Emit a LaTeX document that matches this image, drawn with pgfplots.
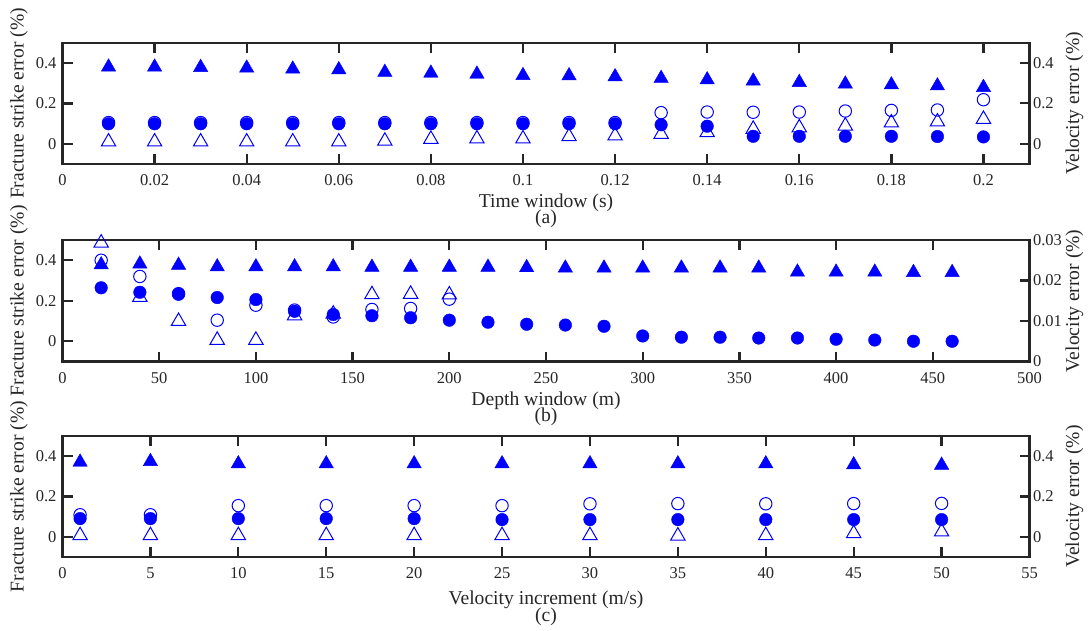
\documentclass[border=0pt]{standalone}
\usepackage{fontspec}
\setmainfont{Liberation Serif}
\usepackage{pgfplots}
\pgfplotsset{compat=1.18}
\definecolor{axgray}{RGB}{38,38,38}
\definecolor{mblue}{RGB}{0,0,255}

\pgfplotsset{
 base/.style={scale only axis, width=967pt, anchor=south west, clip=false,
   tick align=inside, major tick length=10pt,
   tick style={line width=2.3pt, color=axgray},
   axis line style={line width=2.3pt, color=axgray},
   tick label style={font=\fontsize{16.5}{18}\selectfont, text=axgray},
   /pgf/number format/assume math mode=true,
   /pgf/number format/fixed, /pgf/number format/precision=2,
   scaled ticks=false},
 leftax/.style={base, xtick pos=both, ytick pos=left, ymin=-0.1, ymax=0.5,
   ytick={0,0.2,0.4}, yticklabel style={xshift=-2.5pt}, xticklabel style={yshift=-7pt}},
 rightax/.style={base, axis y line*=right, axis x line=none, ytick pos=right},
 ftri/.style={only marks, mark=triangle*, mark size=8.3pt, mark options={fill=mblue, draw=mblue, yshift=-2.1pt}},
 fcirc/.style={only marks, mark=*, mark size=6.3pt, mark options={fill=mblue, draw=mblue}},
 otri/.style={only marks, mark=triangle, mark size=8.3pt, mark options={draw=mblue, line width=1pt, yshift=-2.1pt}},
 ocirc/.style={only marks, mark=o, mark size=6.2pt, mark options={draw=mblue, line width=1pt}},
}
\tikzset{lab/.style={font=\fontsize{19.6}{22}\selectfont, text=axgray, inner sep=0pt}}

\begin{document}
\begin{tikzpicture}
\useasboundingbox (0pt,0pt) rectangle (1091pt,-631pt);

% ---------------- panel (a) ----------------
\begin{axis}[leftax, at={(62.5pt,-164pt)}, height=121.3pt,
  xmin=0, xmax=0.21, xtick={0,0.02,...,0.2}]
\addplot[ocirc] table {
0.01 0.105
0.02 0.105
0.03 0.105
0.04 0.105
0.05 0.105
0.06 0.105
0.07 0.105
0.08 0.105
0.09 0.105
0.10 0.105
0.11 0.105
0.12 0.105
0.13 0.154
0.14 0.157
0.15 0.156
0.16 0.157
0.17 0.162
0.18 0.165
0.19 0.167
0.20 0.218
};
\addplot[otri] table {
0.01 0.020
0.02 0.020
0.03 0.020
0.04 0.020
0.05 0.020
0.06 0.020
0.07 0.024
0.08 0.033
0.09 0.035
0.10 0.035
0.11 0.046
0.12 0.050
0.13 0.058
0.14 0.066
0.15 0.083
0.16 0.090
0.17 0.099
0.18 0.114
0.19 0.119
0.20 0.132
};
\end{axis}
\begin{axis}[rightax, at={(62.5pt,-164pt)}, height=121.3pt,
  xmin=0, xmax=0.21, ymin=-0.1, ymax=0.5, ytick={0,0.2,0.4}]
\addplot[ftri] table {
0.01 0.390
0.02 0.390
0.03 0.388
0.04 0.385
0.05 0.380
0.06 0.377
0.07 0.364
0.08 0.360
0.09 0.355
0.10 0.348
0.11 0.347
0.12 0.342
0.13 0.334
0.14 0.327
0.15 0.321
0.16 0.314
0.17 0.306
0.18 0.302
0.19 0.297
0.20 0.289
};
\addplot[fcirc] table {
0.01 0.099
0.02 0.099
0.03 0.099
0.04 0.099
0.05 0.099
0.06 0.099
0.07 0.099
0.08 0.099
0.09 0.099
0.10 0.099
0.11 0.099
0.12 0.099
0.13 0.094
0.14 0.087
0.15 0.037
0.16 0.037
0.17 0.037
0.18 0.037
0.19 0.036
0.20 0.034
};
\end{axis}

% ---------------- panel (b) ----------------
\begin{axis}[leftax, at={(62.5pt,-361.5pt)}, height=121.5pt,
  xmin=0, xmax=500, xtick={0,50,...,500}]
\addplot[ocirc] table {
20 0.400
40 0.320
60 0.235
80 0.104
100 0.178
120 0.154
140 0.120
160 0.157
180 0.162
200 0.208
};
\addplot[otri] table {
20 0.496
40 0.228
60 0.109
80 0.016
100 0.016
120 0.137
140 0.145
160 0.241
180 0.243
200 0.240
};
\end{axis}
\begin{axis}[rightax, at={(62.5pt,-361.5pt)}, height=121.5pt,
  xmin=0, xmax=500, ymin=0, ymax=0.03, ytick={0,0.01,0.02,0.03}]
\addplot[ftri] table {
20 0.0244
40 0.0246
60 0.0243
80 0.0239
100 0.0239
120 0.0239
140 0.0239
160 0.0238
180 0.0238
200 0.0238
220 0.0238
240 0.0237
260 0.0236
280 0.0236
300 0.0236
320 0.0236
340 0.0236
360 0.0236
380 0.0226
400 0.0226
420 0.0226
440 0.0225
460 0.0225
};
\addplot[fcirc] table {
20 0.0182
40 0.0171
60 0.0166
80 0.0158
100 0.0153
120 0.0124
140 0.0116
160 0.0113
180 0.0108
200 0.0102
220 0.0097
240 0.0092
260 0.0090
280 0.0087
300 0.0063
320 0.0060
340 0.0060
360 0.0058
380 0.0058
400 0.0055
420 0.0053
440 0.0050
460 0.0050
};
\end{axis}

% ---------------- panel (c) ----------------
\begin{axis}[leftax, at={(62.5pt,-557.3pt)}, height=121.6pt,
  xmin=0, xmax=55, xtick={0,5,...,55}]
\addplot[ocirc] table {
1 0.110
5 0.110
10 0.155
15 0.155
20 0.155
25 0.155
30 0.164
35 0.165
40 0.164
45 0.165
50 0.166
};
\addplot[otri] table {
1 0.018
5 0.018
10 0.018
15 0.018
20 0.018
25 0.018
30 0.018
35 0.016
40 0.018
45 0.028
50 0.036
};
\end{axis}
\begin{axis}[rightax, at={(62.5pt,-557.3pt)}, height=121.6pt,
  xmin=0, xmax=55, ymin=-0.1, ymax=0.5, ytick={0,0.2,0.4}]
\addplot[ftri] table {
1 0.380
5 0.383
10 0.372
15 0.372
20 0.372
25 0.372
30 0.372
35 0.372
40 0.372
45 0.367
50 0.365
};
\addplot[fcirc] table {
1 0.091
5 0.091
10 0.091
15 0.091
20 0.091
25 0.086
30 0.086
35 0.086
40 0.086
45 0.086
50 0.086
};
\end{axis}

% ---------------- labels ----------------
\node[lab] at (546pt,-202.5pt) {Time window (s)};
\node[lab] at (546pt,-219pt) {(a)};
\node[lab] at (546pt,-400.5pt) {Depth window (m)};
\node[lab] at (546pt,-417pt) {(b)};
\node[lab] at (546pt,-599.5pt) {Velocity increment (m/s)};
\node[lab] at (546pt,-616.5pt) {(c)};
\node[lab, rotate=90] at (19pt,-103.4pt) {Fracture strike error (\%)};
\node[lab, rotate=90] at (19pt,-300.8pt) {Fracture strike error (\%)};
\node[lab, rotate=90] at (19pt,-496.5pt) {Fracture strike error (\%)};
\node[lab, rotate=90] at (1074.5pt,-103.4pt) {Velocity error (\%)};
\node[lab, rotate=90] at (1074.5pt,-300.8pt) {Velocity error (\%)};
\node[lab, rotate=90] at (1074.5pt,-496.5pt) {Velocity error (\%)};
\end{tikzpicture}
\end{document}
